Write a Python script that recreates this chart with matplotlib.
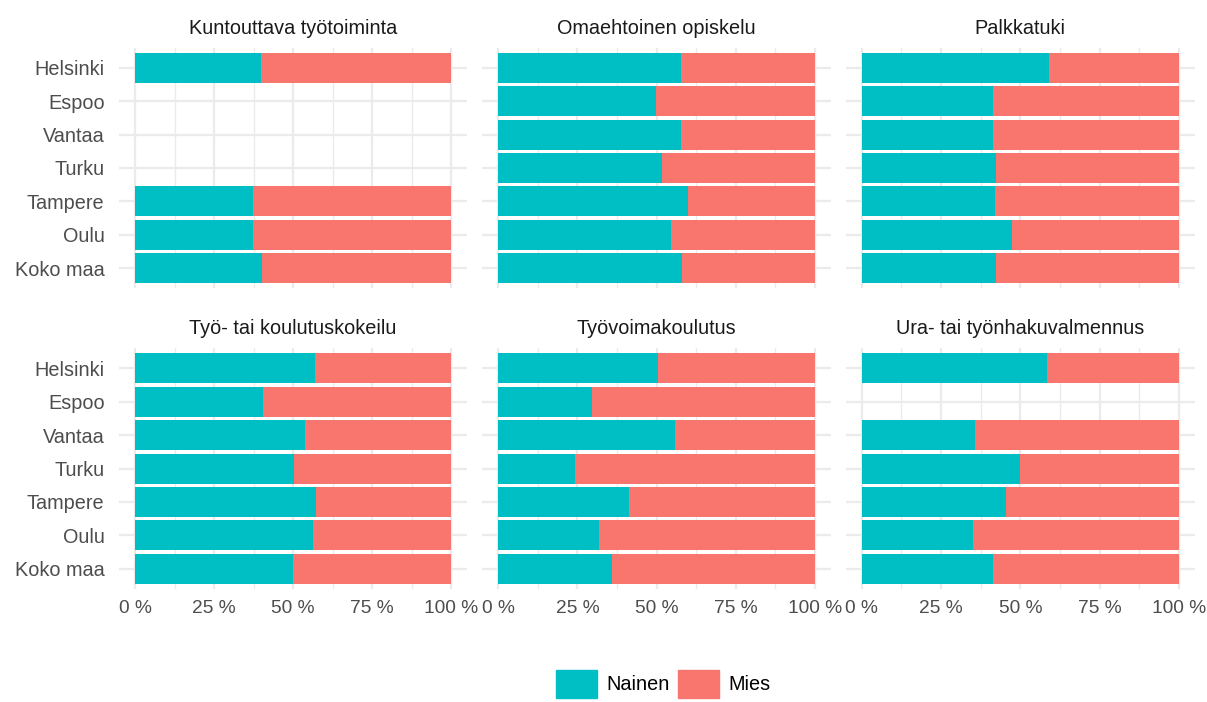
import numpy as np
import matplotlib
matplotlib.use("Agg")
import matplotlib.pyplot as plt
from matplotlib.patches import Rectangle

plt.rcParams['font.family'] = ['Liberation Sans', 'DejaVu Sans']

cities = ["Helsinki", "Espoo", "Vantaa", "Turku", "Tampere", "Oulu", "Koko maa"]
panels = ["Kuntouttava työtoiminta", "Omaehtoinen opiskelu", "Palkkatuki",
          "Työ- tai koulutuskokeilu", "Työvoimakoulutus", "Ura- tai työnhakuvalmennus"]

# Share of women (Nainen); men (Mies) = remainder. NaN = no data
nainen_kuntouttava = [0.400, np.nan, np.nan, np.nan, 0.373, 0.373, 0.402]
nainen_omaehtoinen = [0.576, 0.499, 0.576, 0.516, 0.600, 0.545, 0.579]
nainen_palkkatuki = [0.590, 0.415, 0.415, 0.422, 0.421, 0.473, 0.422]
nainen_kokeilu = [0.570, 0.404, 0.539, 0.502, 0.574, 0.563, 0.499]
nainen_koulutus = [0.503, 0.297, 0.557, 0.241, 0.412, 0.317, 0.360]
nainen_valmennus = [0.583, np.nan, 0.358, 0.499, 0.454, 0.351, 0.414]

series = [nainen_kuntouttava, nainen_omaehtoinen, nainen_palkkatuki,
          nainen_kokeilu, nainen_koulutus, nainen_valmennus]

xticks = [0, 0.25, 0.5, 0.75, 1.0]
xticklabels = ["0 %", "25 %", "50 %", "75 %", "100 %"]
legend_labels = ["Nainen", "Mies"]

C_N = "#00BFC4"
C_M = "#F8766D"
GRID = "#EBEBEB"
FS = 14.3

W, H = 1207, 702
fig = plt.figure(figsize=(W / 100, H / 100), dpi=100)

zero_x = [135.0, 498.3, 861.7]
span = [316.0, 316.7, 317.3]
row_top = [47.7, 348.3]
row_h = 240.5

axes = []
for i, (title, vals) in enumerate(zip(panels, series)):
    r, c = divmod(i, 3)
    left = zero_x[c] - 0.05 * span[c]
    width = 1.1 * span[c]
    ax = fig.add_axes([left / W, 1 - (row_top[r] + row_h) / H, width / W, row_h / H])
    ax.set_xlim(-0.05, 1.05)
    ax.set_ylim(len(cities) - 1 + 0.6, -0.6)
    for s in ax.spines.values():
        s.set_visible(False)
    ax.set_axisbelow(True)
    ax.set_xticks(xticks)
    ax.set_xticks([0.125, 0.375, 0.625, 0.875], minor=True)
    ax.set_yticks(range(len(cities)))
    ax.grid(True, which='major', color=GRID, linewidth=1.6)
    ax.grid(True, which='minor', axis='x', color=GRID, linewidth=1.0)
    ax.tick_params(which='both', length=0)
    v = np.array(vals, dtype=float)
    ypos = np.arange(len(cities))
    mask = ~np.isnan(v)
    ax.barh(ypos[mask], v[mask], height=0.9, color=C_N, edgecolor='none', label=legend_labels[0])
    ax.barh(ypos[mask], 1 - v[mask], left=v[mask], height=0.9, color=C_M, edgecolor='none', label=legend_labels[1])
    if c == 0:
        ax.set_yticklabels(cities, fontsize=FS, color="#4D4D4D")
        ax.tick_params(axis='y', pad=10.5)
    else:
        ax.set_yticklabels([])
    if r == 1:
        ax.set_xticklabels(xticklabels, fontsize=13.8, color="#4D4D4D")
        ax.tick_params(axis='x', pad=8)
    else:
        ax.set_xticklabels([])
    ax.set_title(title, fontsize=FS, color="#1A1A1A", pad=10)
    axes.append(ax)

# Legend
handles = [Rectangle((0, 0), 1, 1, color=C_N), Rectangle((0, 0), 1, 1, color=C_M)]
fig.legend(handles, legend_labels, loc='center', bbox_to_anchor=(663 / W, 1 - 684 / H),
           ncol=2, frameon=False, fontsize=FS, handlelength=2.1, handleheight=1.85,
           handletextpad=0.45, columnspacing=0.4, borderaxespad=0)

fig.savefig("out.png", dpi=100, facecolor="white")
